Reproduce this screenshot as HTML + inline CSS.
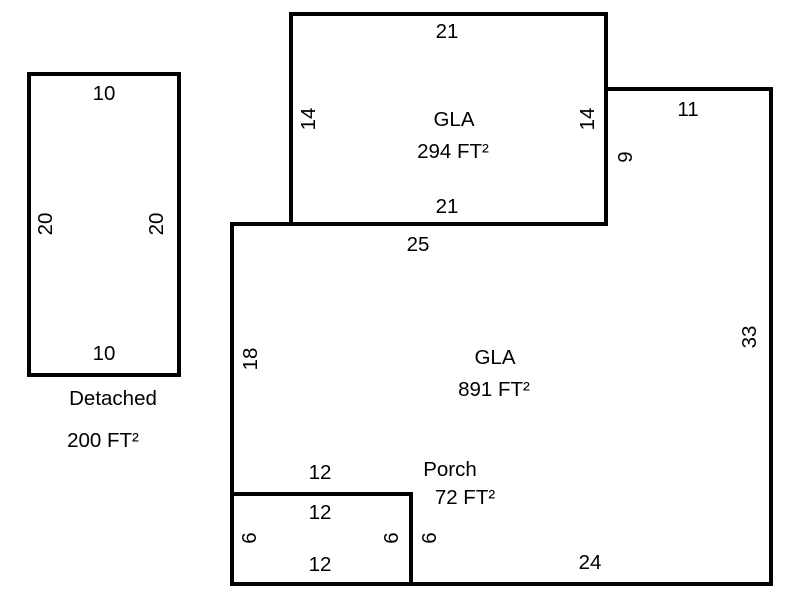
<!DOCTYPE html>
<html><head><style>
body{margin:0;background:#fff;}
svg text{font-family:"Liberation Sans",Arial,sans-serif;font-size:20.5px;fill:#000;}
</style></head><body>
<svg width="800" height="600" xmlns="http://www.w3.org/2000/svg">
<g fill="none" stroke="#000" stroke-width="4">
<rect x="29" y="74" width="150" height="301"/>
<rect x="291" y="14" width="315" height="210"/>
<polygon points="232,224 606,224 606,89 771,89 771,584 232,584"/>
<rect x="232" y="494" width="179" height="90"/>
</g>
<g text-anchor="middle">
<text x="104" y="100">10</text>
<text x="104" y="360">10</text>
<text x="113" y="405">Detached</text>
<text x="103" y="447">200 FT²</text>
<text x="447" y="38">21</text>
<text x="454" y="126">GLA</text>
<text x="453" y="158">294 FT²</text>
<text x="447" y="213">21</text>
<text x="418" y="251">25</text>
<text x="688" y="116">11</text>
<text x="495" y="364">GLA</text>
<text x="494" y="396">891 FT²</text>
<text x="320" y="479">12</text>
<text x="450" y="476">Porch</text>
<text x="465" y="504">72 FT²</text>
<text x="320" y="519">12</text>
<text x="320" y="571">12</text>
<text x="590" y="569">24</text>
<text transform="translate(52,224) rotate(-90)">20</text>
<text transform="translate(163,224) rotate(-90)">20</text>
<text transform="translate(315,119) rotate(-90)">14</text>
<text transform="translate(594,119) rotate(-90)">14</text>
<text transform="translate(632,157) rotate(-90)">9</text>
<text transform="translate(756,337) rotate(-90)">33</text>
<text transform="translate(257,359) rotate(-90)">18</text>
<text transform="translate(256,538) rotate(-90)">6</text>
<text transform="translate(398,538) rotate(-90)">6</text>
<text transform="translate(436,538) rotate(-90)">6</text>
</g>
</svg>
</body></html>
